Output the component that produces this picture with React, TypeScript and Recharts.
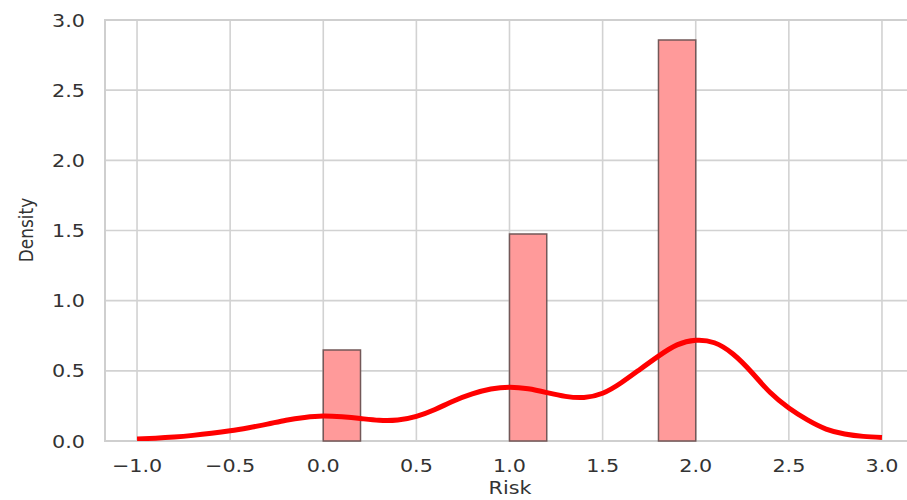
import React from "react";
import { ComposedChart, Line, XAxis, YAxis, CartesianGrid, ReferenceArea } from "recharts";

const binStarts = [0.0, 1.0, 1.8];
const binEnds = [0.2, 1.2, 2.0];
const binDensity = [0.649, 1.475, 2.858];

const kdeX = [-1.0, -0.9, -0.8, -0.7, -0.6, -0.5, -0.4, -0.3, -0.2, -0.1, 0.0, 0.1, 0.2, 0.3, 0.4, 0.5, 0.6, 0.7, 0.8, 0.9, 1.0, 1.1, 1.2, 1.3, 1.4, 1.5, 1.6, 1.7, 1.8, 1.9, 2.0, 2.1, 2.2, 2.3, 2.4, 2.5, 2.6, 2.7, 2.8, 2.9, 3.0];
const kdeY = [0.015, 0.02, 0.028, 0.04, 0.055, 0.073, 0.095, 0.12, 0.148, 0.168, 0.178, 0.172, 0.16, 0.148, 0.15, 0.176, 0.225, 0.285, 0.335, 0.37, 0.383, 0.372, 0.345, 0.318, 0.31, 0.34, 0.415, 0.51, 0.605, 0.685, 0.718, 0.7, 0.62, 0.49, 0.345, 0.235, 0.15, 0.085, 0.05, 0.033, 0.025];

const xTicks = [-1.0, -0.5, 0.0, 0.5, 1.0, 1.5, 2.0, 2.5, 3.0];
const yTicks = [0.0, 0.5, 1.0, 1.5, 2.0, 2.5, 3.0];

const X_MIN = -1.172;
const X_MAX = 3.172;

const kde = kdeX.map((x, i) => ({ x, d: kdeY[i] }));

const FONT = "DejaVu Sans";
const TXT = "#333333";
const SX = 1.15;

const fmt = (v: number) => (v < 0 ? "\u2212" + Math.abs(v).toFixed(1) : v.toFixed(1));

const XTick = (props: any) => {
  const { x, y, payload } = props;
  return (
    <text
      transform={`translate(${x},${y + 31}) scale(${SX},1)`}
      textAnchor="middle"
      fontFamily={FONT}
      fontSize={18}
      fill={TXT}
    >
      {fmt(payload.value)}
    </text>
  );
};

const YTick = (props: any) => {
  const { x, y, payload } = props;
  return (
    <text
      transform={`translate(${x},${y + 6.5}) scale(${SX},1)`}
      textAnchor="end"
      fontFamily={FONT}
      fontSize={18}
      fill={TXT}
    >
      {fmt(payload.value)}
    </text>
  );
};

export default function App() {
  return (
    <div style={{ position: "absolute", left: 0, top: 0, width: 907, height: 500, overflow: "hidden", background: "#fff" }}>
      <ComposedChart width={920} height={500} margin={{ top: 20, right: 6, bottom: 0, left: 0 }}>
        <CartesianGrid stroke="#d2d2d2" strokeWidth={1.6} />
        <XAxis
          type="number"
          dataKey="x"
          domain={[X_MIN, X_MAX]}
          ticks={xTicks}
          allowDataOverflow
          axisLine={false}
          tickLine={false}
          tickSize={0}
          tickMargin={0}
          height={59}
          tick={<XTick />}
          interval={0}
        />
        <YAxis
          type="number"
          domain={[0, 3]}
          ticks={yTicks}
          allowDataOverflow
          axisLine={false}
          tickLine={false}
          tickSize={0}
          tickMargin={20}
          width={105}
          tick={<YTick />}
          interval={0}
        />
        <ReferenceArea x1={X_MIN} x2={X_MAX} y1={0} y2={3} fill="none" fillOpacity={0} stroke="#cfcfcf" strokeWidth={2} ifOverflow="visible" />
        {binStarts.map((b, i) => (
          <ReferenceArea
            key={i}
            x1={b}
            x2={binEnds[i]}
            y1={0}
            y2={binDensity[i]}
            fill="#ff9a9a"
            fillOpacity={1}
            stroke="#735858"
            strokeWidth={1.5}
          />
        ))}
        <Line
          data={kde}
          dataKey="d"
          type="natural"
          stroke="#ff0000"
          strokeWidth={5}
          dot={false}
          activeDot={false}
          isAnimationActive={false}
        />
        <text
          transform={`translate(510,494) scale(${SX},1)`}
          textAnchor="middle"
          fontFamily={FONT}
          fontSize={18}
          fill={TXT}
        >
          Risk
        </text>
        <text
          transform={`translate(33,230) scale(${SX},1) rotate(-90)`}
          textAnchor="middle"
          fontFamily={FONT}
          fontSize={17}
          fill={TXT}
        >
          Density
        </text>
      </ComposedChart>
    </div>
  );
}
